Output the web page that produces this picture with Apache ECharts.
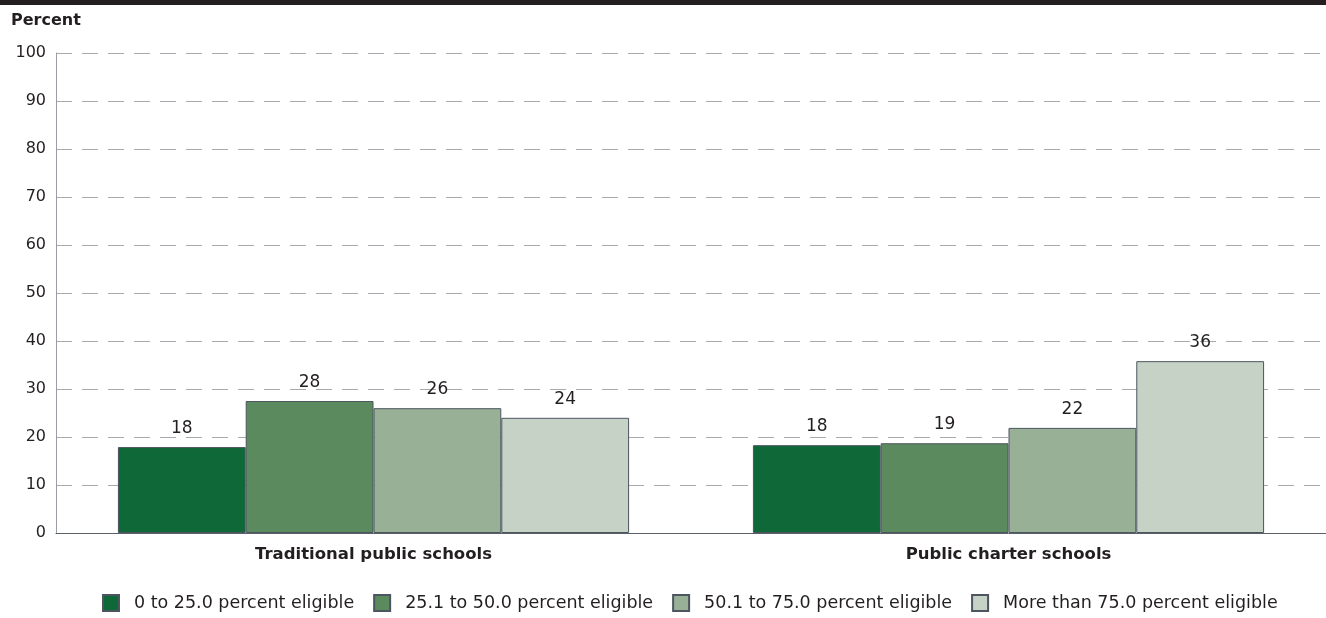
<!DOCTYPE html>
<html><head><meta charset="utf-8">
<script src="https://cdn.jsdelivr.net/npm/echarts@6/dist/echarts.min.js"></script>
<style>html,body{margin:0;padding:0;background:#fff}#c{width:1326px;height:618px}</style>
</head><body><div id="c"></div>
<script>
const categories = ['Traditional public schools', 'Public charter schools'];
const seriesNames = ['0 to 25.0 percent eligible', '25.1 to 50.0 percent eligible', '50.1 to 75.0 percent eligible', 'More than 75.0 percent eligible'];
const s1 = [17.9, 18.3];
const s2 = [27.5, 18.7];
const s3 = [26.0, 21.9];
const s4 = [24.0, 35.8];
const seriesValues = [s1, s2, s3, s4];
const colors = ['#0e6837', '#5b8a5f', '#98b095', '#c6d2c5'];
const FONT = '"DejaVu Sans", sans-serif';
const chart = echarts.init(document.getElementById('c'));
chart.setOption({
  animation: false,
  textStyle: {fontFamily: FONT},
  graphic: [
    {type: 'rect', left: 0, top: 0, shape: {width: 1326, height: 5}, style: {fill: '#231f20'}},
    {type: 'text', left: 11, top: 13, style: {text: 'Percent', font: 'bold 16px ' + FONT, fill: '#231f20'}}
  ],
  grid: {left: 56, right: 0, top: 53, bottom: 85},
  legend: {
    top: 589, left: 97, itemWidth: 16, itemHeight: 16, itemGap: 19,
    textStyle: {fontSize: 17.5, color: '#231f20', fontFamily: FONT, padding: [0, 0, 0, 10]},
    data: seriesNames.map(n => ({name: n, icon: 'rect'}))
  },
  xAxis: {
    type: 'category', data: categories,
    axisLine: {lineStyle: {color: '#5a6068', width: 1}},
    axisTick: {show: false},
    axisLabel: {fontSize: 16.5, fontWeight: 'bold', color: '#231f20', margin: 13}
  },
  yAxis: {
    type: 'value', min: 0, max: 100, interval: 10,
    axisLine: {show: true, lineStyle: {color: '#9a9ea4'}},
    axisTick: {show: false},
    axisLabel: {fontSize: 16, color: '#231f20', margin: 10},
    splitLine: {lineStyle: {color: '#a6aaae', type: [16, 10], width: 1}}
  },
  series: seriesValues.map((vals, i) => ({
    name: seriesNames[i], type: 'bar', data: vals,
    barGap: 0, barCategoryGap: '19.5%',
    itemStyle: {color: colors[i], borderColor: '#4c5560', borderWidth: 1},
    label: {show: true, position: 'top', distance: 10, fontSize: 17, color: '#231f20',
            formatter: p => Math.round(p.value)}
  }))
});
</script></body></html>
